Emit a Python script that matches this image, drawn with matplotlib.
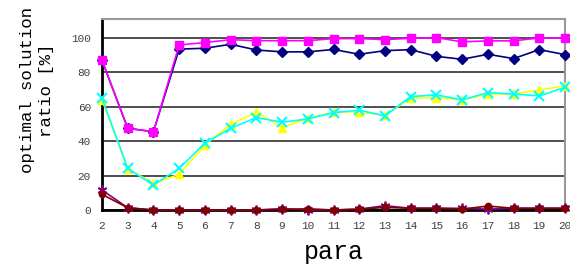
import matplotlib
matplotlib.use('Agg')
import matplotlib.pyplot as plt

# x axis: parameter value
para = list(range(2, 21))

# series
navy = [87, 47.5, 45.5, 93.5, 94, 96.3, 93, 91.9, 91.9, 93.3, 90.5, 92.6, 93.2, 89.3, 87.6, 90.5, 88, 93.2, 90.3]
magenta = [87, 47.4, 45.5, 95.9, 97.3, 99, 98.4, 98.4, 98.4, 99.6, 99.6, 99, 99.8, 100.2, 97.7, 98.3, 98.3, 100, 100]
yellow = [64, 24, 15.5, 20.7, 37.8, 49.8, 56.8, 47.9, 53.3, 56.8, 57, 55, 65, 65.3, 64, 67.3, 67.3, 69.8, 72.1]
cyan = [65, 24.2, 14.5, 24.2, 38.8, 47.5, 53.7, 51, 52.9, 56.6, 58, 54.7, 65.9, 66.9, 64, 68.2, 67.4, 66.3, 71.3]
purple = [11.6, 1.3, 0, 0, 0, 0, 0, 0.8, 0, 0, 0.5, 2.5, 1, 1, 1, 0.5, 1, 1, 1]
darkred = [9.1, 1.3, 0, 0, 0, 0, 0, 0.3, 0.7, 0, 0.5, 1.5, 1, 1, 0.5, 2.3, 1, 1, 1]

fig = plt.figure(figsize=(5.7, 2.64), dpi=100)
ax = fig.add_axes([102 / 570, 1 - 210 / 264, 463 / 570, 191 / 264])

ax.plot(para, navy, color='#000080', marker='D', markersize=5, lw=1.2, clip_on=False, zorder=3)
ax.plot(para, magenta, color='#FF00FF', marker='s', markersize=6, lw=1.2, clip_on=False, zorder=4)
ax.plot(para, yellow, color='#FFFF00', marker='^', markersize=6, lw=1.2, clip_on=False, zorder=5)
ax.plot(para, cyan, color='#00FFFF', marker='x', markersize=7, mew=1.5, lw=1.2, clip_on=False, zorder=6)
ax.plot(para, purple, color='#800080', marker=(6, 2, 0), markersize=7, mew=1.3, lw=1.2, clip_on=False, zorder=7)
ax.plot(para, darkred, color='#800000', marker='o', markersize=4.5, lw=1.2, clip_on=False, zorder=8)

ax.set_xlim(2, 20)
ax.set_ylim(0, 111)
ax.set_xticks(para)
ax.set_yticks([0, 20, 40, 60, 80, 100])
ax.yaxis.grid(True, color='#303030', lw=1.2)
ax.set_axisbelow(True)

ax.spines['left'].set_color('black')
ax.spines['left'].set_linewidth(2)
ax.spines['bottom'].set_color('black')
ax.spines['bottom'].set_linewidth(2)
ax.spines['top'].set_color('#999999')
ax.spines['right'].set_color('#999999')
ax.spines['top'].set_linewidth(1.5)
ax.spines['right'].set_linewidth(1.5)

ax.tick_params(length=0, pad=8, labelsize=8, labelcolor='#404040')
for lbl in ax.get_xticklabels() + ax.get_yticklabels():
    lbl.set_family('Liberation Mono')

fig.text(0.5 * (102 + 565) / 570, 1 - 252 / 264, 'para', ha='center', va='center',
         family='Liberation Mono', fontsize=18)
fig.text(37 / 570, 1 - 90 / 264, 'optimal solution\nratio [%]', ha='center', va='center',
         rotation=90, family='Liberation Mono', fontsize=12.5, linespacing=1.3)

fig.savefig('out.png', dpi=100, facecolor='white')
